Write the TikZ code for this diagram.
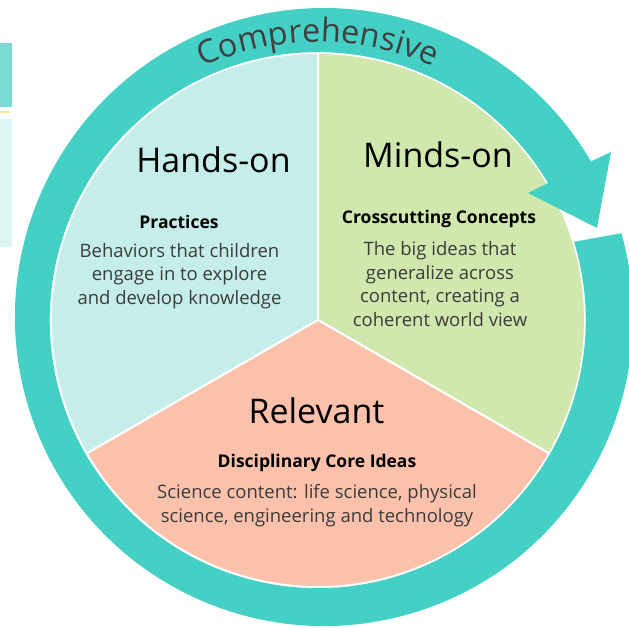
\documentclass[tikz,border=0pt]{standalone}
\usepackage{fontspec}
\setmainfont{Open Sans}
\usetikzlibrary{decorations.text}
\definecolor{ringteal}{HTML}{45D0C6}
\definecolor{handsbg}{HTML}{C5EEEB}
\definecolor{mindsbg}{HTML}{D0E8AD}
\definecolor{relbg}{HTML}{FCC1AB}
\definecolor{bodytext}{HTML}{3C3C3C}
\definecolor{commtext}{HTML}{404040}
\definecolor{fragteal}{HTML}{7ADAD3}
\definecolor{fragyellow}{HTML}{F8E58C}
\definecolor{fraglight}{HTML}{DDF5F2}
\begin{document}
\begin{tikzpicture}[x=1pt,y=1pt,
  piesector/.style={draw=white, line width=2pt, line join=round},
  heading/.style={font=\fontsize{34}{40}\selectfont, text=black, inner sep=0pt, anchor=base},
  subhead/.style={font=\fontsize{17.5}{22}\selectfont\bfseries, text=black, inner sep=0pt, anchor=base},
  body/.style={font=\fontsize{18.5}{23.5}\selectfont, text=bodytext, align=center, inner sep=0pt, anchor=base}]
\useasboundingbox (-318,-307) rectangle (311,320);
\clip (-318,-307) rectangle (311,320);
% left edge fragments
\fill[fragteal] (-318,277) rectangle (-306,213);
\fill[fragyellow] (-318,209) rectangle (-308,207);
\fill[fraglight] (-318,201) rectangle (-306,73);
% pie
\path[piesector, fill=handsbg] (0,0) -- (90:267) arc[start angle=90, end angle=210, radius=267] -- cycle;
\path[piesector, fill=mindsbg] (0,0) -- (-30:267) arc[start angle=-30, end angle=90, radius=267] -- cycle;
\path[piesector, fill=relbg] (0,0) -- (210:267) arc[start angle=210, end angle=330, radius=267] -- cycle;
% ring arrow
\fill[ringteal] ([shift={(6,3)}]15.74:309) arc[start angle=15.74, end angle=-329.77, radius=309]
  -- (293,168) -- (279,92) -- (210,127) -- (230,137)
  arc[start angle=30.78, end angle=377, radius=268] -- cycle;
% curved title
\path[decorate, decoration={text along path, text align=center,
  text={|\fontsize{32.5}{38}\selectfont\color{commtext}|Comprehensive}}]
  (160:278) arc[start angle=160, end angle=20, radius=278];
% texts
\node[heading] (hands) at (-104.5,147) {Hands-on};
\node[subhead] (practices) at (-139,92) {Practices};
\node[body] (handsbody) at (-138.5,16) {Behaviors that children\\engage in to explore\\and develop knowledge};
\node[heading] (minds) at (120,152) {Minds-on};
\node[subhead] (ccc) at (121,96) {Crosscutting Concepts};
\node[body] (mindsbody) at (122,-6) {The big ideas that\\generalize across\\content, creating a\\coherent world view};
\node[heading] (relevant) at (-1.5,-103) {Relevant};
\node[subhead] (dci) at (-1,-147) {Disciplinary Core Ideas};
\node[body] (relbody) at (-1,-202) {Science content: life science, physical\\science, engineering and technology};
\end{tikzpicture}
\end{document}
